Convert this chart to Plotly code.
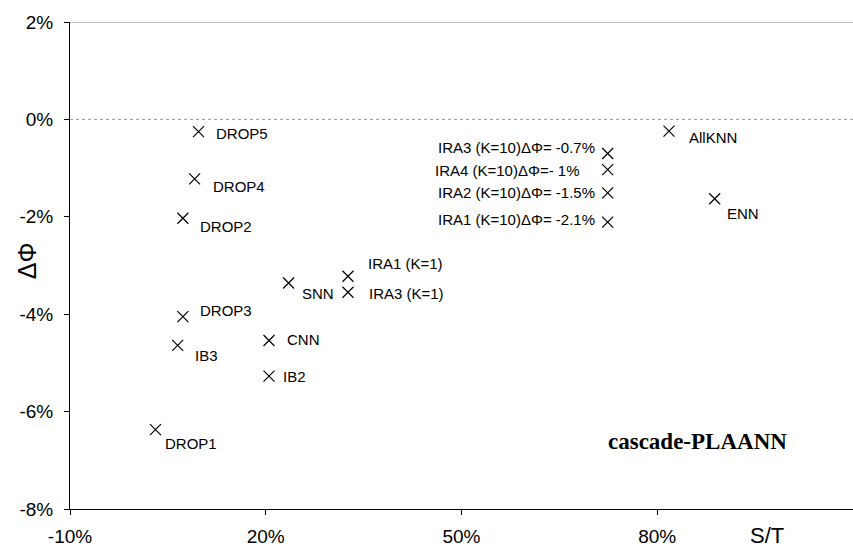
import plotly.graph_objects as go

# ---- data ----
names = ["DROP5", "DROP4", "DROP2", "DROP3", "IB3", "DROP1", "CNN", "IB2", "SNN",
         "IRA1 (K=1)", "IRA3 (K=1)",
         "IRA3 (K=10)ΔΦ= -0.7%", "IRA4 (K=10)ΔΦ=- 1%", "IRA2 (K=10)ΔΦ= -1.5%", "IRA1 (K=10)ΔΦ= -2.1%",
         "AllKNN", "ENN"]
st = [9.7, 9.1, 7.3, 7.3, 6.5, 3.1, 20.5, 20.5, 23.5,
      32.6, 32.6,
      72.4, 72.4, 72.4, 72.4,
      81.8, 88.8]
dphi = [-0.25, -1.22, -2.03, -4.05, -4.64, -6.37, -4.54, -5.27, -3.36,
        -3.22, -3.55,
        -0.70, -1.03, -1.51, -2.11,
        -0.24, -1.63]
x_ticks = [-10, 20, 50, 80]
y_ticks = [2, 0, -2, -4, -6, -8]

# label placement (pixel offsets from marker: dx, dy(down), anchor)
label_pos = {
    "DROP5": (15, 2, "left"), "DROP4": (16, 8, "left"), "DROP2": (15, 8, "left"),
    "DROP3": (15, -6, "left"), "IB3": (15, 10, "left"), "DROP1": (8, 14, "left"),
    "CNN": (16, -1, "left"), "IB2": (12, 0, "left"), "SNN": (11, 10, "left"),
    "IRA1 (K=1)": (18, -13, "left"), "IRA3 (K=1)": (19, 1, "left"),
    "IRA3 (K=10)ΔΦ= -0.7%": (-11, -6, "right"), "IRA4 (K=10)ΔΦ=- 1%": (-26, 1, "right"),
    "IRA2 (K=10)ΔΦ= -1.5%": (-11, 0, "right"), "IRA1 (K=10)ΔΦ= -2.1%": (-11, -3, "right"),
    "AllKNN": (18, 6, "left"), "ENN": (10, 15, "left"),
}

FONT = "Liberation Sans, Arial, sans-serif"

fig = go.Figure()
fig.add_trace(go.Scatter(
    x=st, y=dphi, mode="markers",
    marker=dict(symbol="x-thin-open", size=11, color="black",
                line=dict(color="black", width=1.2)),
    hoverinfo="text", text=names, showlegend=False,
))

annotations = []
for n, xv, yv in zip(names, st, dphi):
    dx, dy, anc = label_pos[n]
    annotations.append(dict(x=xv, y=yv, xref="x", yref="y", text=n, showarrow=False,
                            xanchor=anc, yanchor="middle", xshift=dx, yshift=-dy,
                            font=dict(family=FONT, size=15, color="black")))

annotations.append(dict(x=697, y=441, text="<b>cascade-PLAANN</b>",
                        showarrow=False, font=dict(family="Liberation Serif, Times New Roman, serif",
                                                   size=23, color="black")))
annotations.append(dict(x=767, y=535, text="S/T", showarrow=False,
                        font=dict(family=FONT, size=22, color="black")))
annotations.append(dict(x=27, y=261, text="ΔΦ", showarrow=False, textangle=-90,
                        font=dict(family=FONT, size=25, color="black")))

# convert pixel-positioned annotations to paper coords
W, H = 853, 551
L, R, T, B = 69.7, 0, 22, 42
pw, ph = W - L - R, H - T - B
for a in annotations[-3:]:
    px, py = a["x"], a["y"]
    a["x"] = (px - L) / pw
    a["y"] = 1 - (py - T) / ph
    a["xref"] = "paper"
    a["yref"] = "paper"
    a["xanchor"] = "center"
    a["yanchor"] = "middle"

fig.update_layout(
    width=W, height=H,
    margin=dict(l=L, r=R, t=T, b=B, pad=0),
    paper_bgcolor="white", plot_bgcolor="white",
    annotations=annotations,
    xaxis=dict(range=[-10, 110], tickvals=x_ticks, ticktext=[f"{v}%" for v in x_ticks],
               showgrid=False, zeroline=False, showline=True, linecolor="black", linewidth=1,
               ticks="outside", ticklen=5, tickcolor="black",
               tickfont=dict(family=FONT, size=19, color="black"), ticklabelstandoff=5),
    yaxis=dict(range=[-8, 2], tickvals=y_ticks, ticktext=[f"{v}%" for v in y_ticks],
               showgrid=False, zeroline=False, showline=True, linecolor="black", linewidth=1,
               ticks="outside", ticklen=5, tickcolor="black",
               tickfont=dict(family=FONT, size=19, color="black"), ticklabelstandoff=7),
    shapes=[
        dict(type="line", xref="paper", yref="y", x0=0, x1=1, y0=0, y1=0,
             line=dict(color="#9a9a9a", width=1, dash="dot")),
        dict(type="line", xref="paper", yref="y", x0=0, x1=1, y0=2, y1=2,
             line=dict(color="#8a8a8a", width=1.2)),
    ],
)

fig.write_html("out.html")
